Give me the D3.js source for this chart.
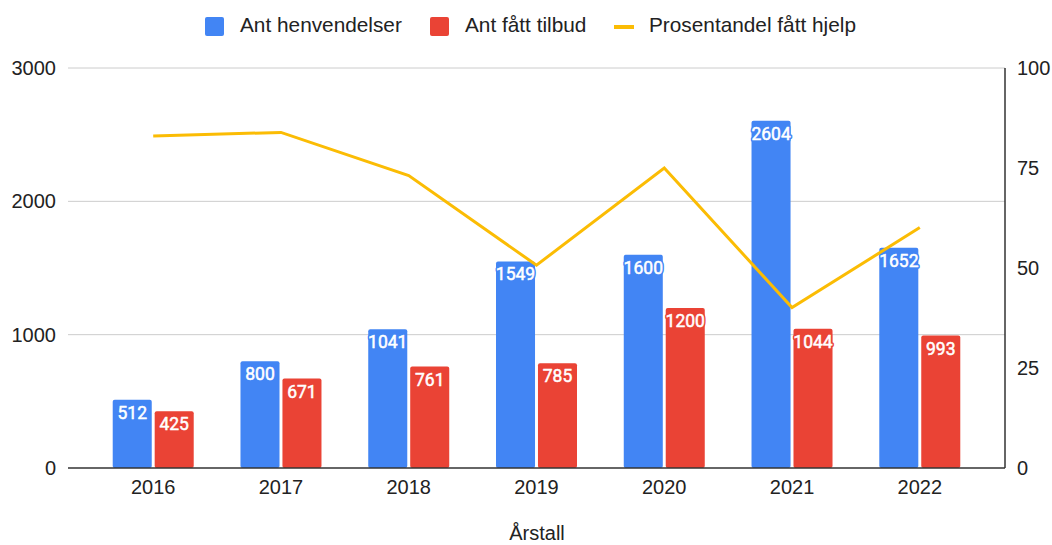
<!DOCTYPE html>
<html>
<head>
<meta charset="utf-8">
<script src="https://cdn.jsdelivr.net/npm/d3@7"></script>
<style>
  body { margin: 0; background: #fff; }
  text { font-family: "Liberation Sans", Arial, sans-serif; }
</style>
</head>
<body>
<div id="canvas"></div>
<script>
// chart data
var years = ["2016", "2017", "2018", "2019", "2020", "2021", "2022"];
var henvendelser = [512, 800, 1041, 1549, 1600, 2604, 1652];
var tilbud = [425, 671, 761, 785, 1200, 1044, 993];
var prosent = [83, 83.9, 73.1, 50.7, 75, 40.1, 60.1];
var leftTicks = [0, 1000, 2000, 3000];
var rightTicks = [0, 25, 50, 75, 100];
var seriesNames = ["Ant henvendelser", "Ant fått tilbud", "Prosentandel fått hjelp"];
var colors = ["#4285F4", "#EA4335", "#FBBC04"];

var W = 1052, H = 545;
var margin = { top: 68, right: 47, bottom: 77, left: 68 };

var svg = d3.select("#canvas").append("svg")
  .attr("width", W).attr("height", H);

// scales
var x = d3.scaleBand().domain(years)
  .range([margin.left, W - margin.right])
  .paddingInner(0.366).paddingOuter(0.35);
var xs = d3.scaleBand().domain([0, 1]).range([0, x.bandwidth()]).paddingInner(0.07);
var y = d3.scaleLinear().domain([0, 3000]).range([H - margin.bottom, margin.top]);
var y2 = d3.scaleLinear().domain([0, 100]).range([H - margin.bottom, margin.top]);

// gridlines
svg.append("g").selectAll("line")
  .data(leftTicks.filter(d => d > 0)).enter().append("line")
  .attr("x1", margin.left).attr("x2", W - margin.right)
  .attr("y1", d => y(d)).attr("y2", d => y(d))
  .attr("stroke", "#cccccc").attr("stroke-width", 1);

// left axis labels
svg.append("g").selectAll("text")
  .data(leftTicks).enter().append("text")
  .attr("x", margin.left - 12).attr("y", d => y(d))
  .attr("dy", "0.35em").attr("text-anchor", "end")
  .attr("font-size", 20).attr("fill", "#222")
  .text(d => d);

// right axis labels
svg.append("g").selectAll("text")
  .data(rightTicks).enter().append("text")
  .attr("x", W - margin.right + 12).attr("y", d => y2(d))
  .attr("dy", "0.35em").attr("text-anchor", "start")
  .attr("font-size", 20).attr("fill", "#222")
  .text(d => d);

// bars
var groups = svg.append("g").selectAll("g")
  .data(years).enter().append("g")
  .attr("transform", d => "translate(" + x(d) + ",0)");

var barData = (d, i) => [
  { s: 0, v: henvendelser[i] },
  { s: 1, v: tilbud[i] }
];

groups.each(function (d, i) {
  var g = d3.select(this);
  g.selectAll("rect").data(barData(d, i)).enter().append("rect")
    .attr("x", b => xs(b.s))
    .attr("y", b => y(b.v))
    .attr("width", xs.bandwidth())
    .attr("height", b => y(0) - y(b.v))
    .attr("rx", 2)
    .attr("fill", b => colors[b.s]);
});

// baseline and right axis line
svg.append("line")
  .attr("x1", margin.left).attr("x2", W - margin.right)
  .attr("y1", y(0)).attr("y2", y(0))
  .attr("stroke", "#333").attr("stroke-width", 1.5);
svg.append("line")
  .attr("x1", W - margin.right).attr("x2", W - margin.right)
  .attr("y1", y2(100)).attr("y2", y2(0))
  .attr("stroke", "#333").attr("stroke-width", 1.5);

// line series
var line = d3.line()
  .x((d, i) => x(years[i]) + x.bandwidth() / 2)
  .y(d => y2(d));
svg.append("path")
  .datum(prosent)
  .attr("d", line)
  .attr("fill", "none")
  .attr("stroke", colors[2])
  .attr("stroke-width", 3)
  .attr("stroke-linejoin", "miter");

// data labels (halo in bar colour, then slightly heavier white text)
groups.each(function (d, i) {
  var g = d3.select(this);
  ["halo", "label"].forEach(function (layer) {
    g.selectAll("text." + layer).data(barData(d, i)).enter().append("text")
      .attr("class", layer)
      .attr("x", b => xs(b.s) + xs.bandwidth() / 2)
      .attr("y", b => y(b.v) + 19)
      .attr("text-anchor", "middle")
      .style("font-family", "Roboto, sans-serif")
      .attr("font-size", 17.5)
      .attr("fill", "#fff")
      .attr("stroke", b => layer == "halo" ? colors[b.s] : "#fff")
      .attr("stroke-width", layer == "halo" ? 3.5 : 0.5)
      .attr("stroke-linejoin", "round")
      .text(b => b.v);
  });
});

// x labels
svg.append("g").selectAll("text")
  .data(years).enter().append("text")
  .attr("x", d => x(d) + x.bandwidth() / 2)
  .attr("y", 494)
  .attr("text-anchor", "middle")
  .attr("font-size", 20).attr("fill", "#222")
  .text(d => d);

// x axis title
svg.append("text")
  .attr("x", 537).attr("y", 540)
  .attr("text-anchor", "middle")
  .attr("font-size", 20).attr("fill", "#222")
  .text("Årstall");

// legend
var legendX = [205, 430, 614];
var legendTextX = [240, 465, 649];
var legend = svg.append("g");
[0, 1].forEach(function (i) {
  legend.append("rect")
    .attr("x", legendX[i]).attr("y", 17)
    .attr("width", 19).attr("height", 19).attr("rx", 2)
    .attr("fill", colors[i]);
});
legend.append("rect")
  .attr("x", legendX[2]).attr("y", 25)
  .attr("width", 20).attr("height", 4)
  .attr("fill", colors[2]);
seriesNames.forEach(function (n, i) {
  legend.append("text")
    .attr("x", legendTextX[i]).attr("y", 32)
    .attr("font-size", 20.8).attr("fill", "#222")
    .text(n);
});
</script>
</body>
</html>
